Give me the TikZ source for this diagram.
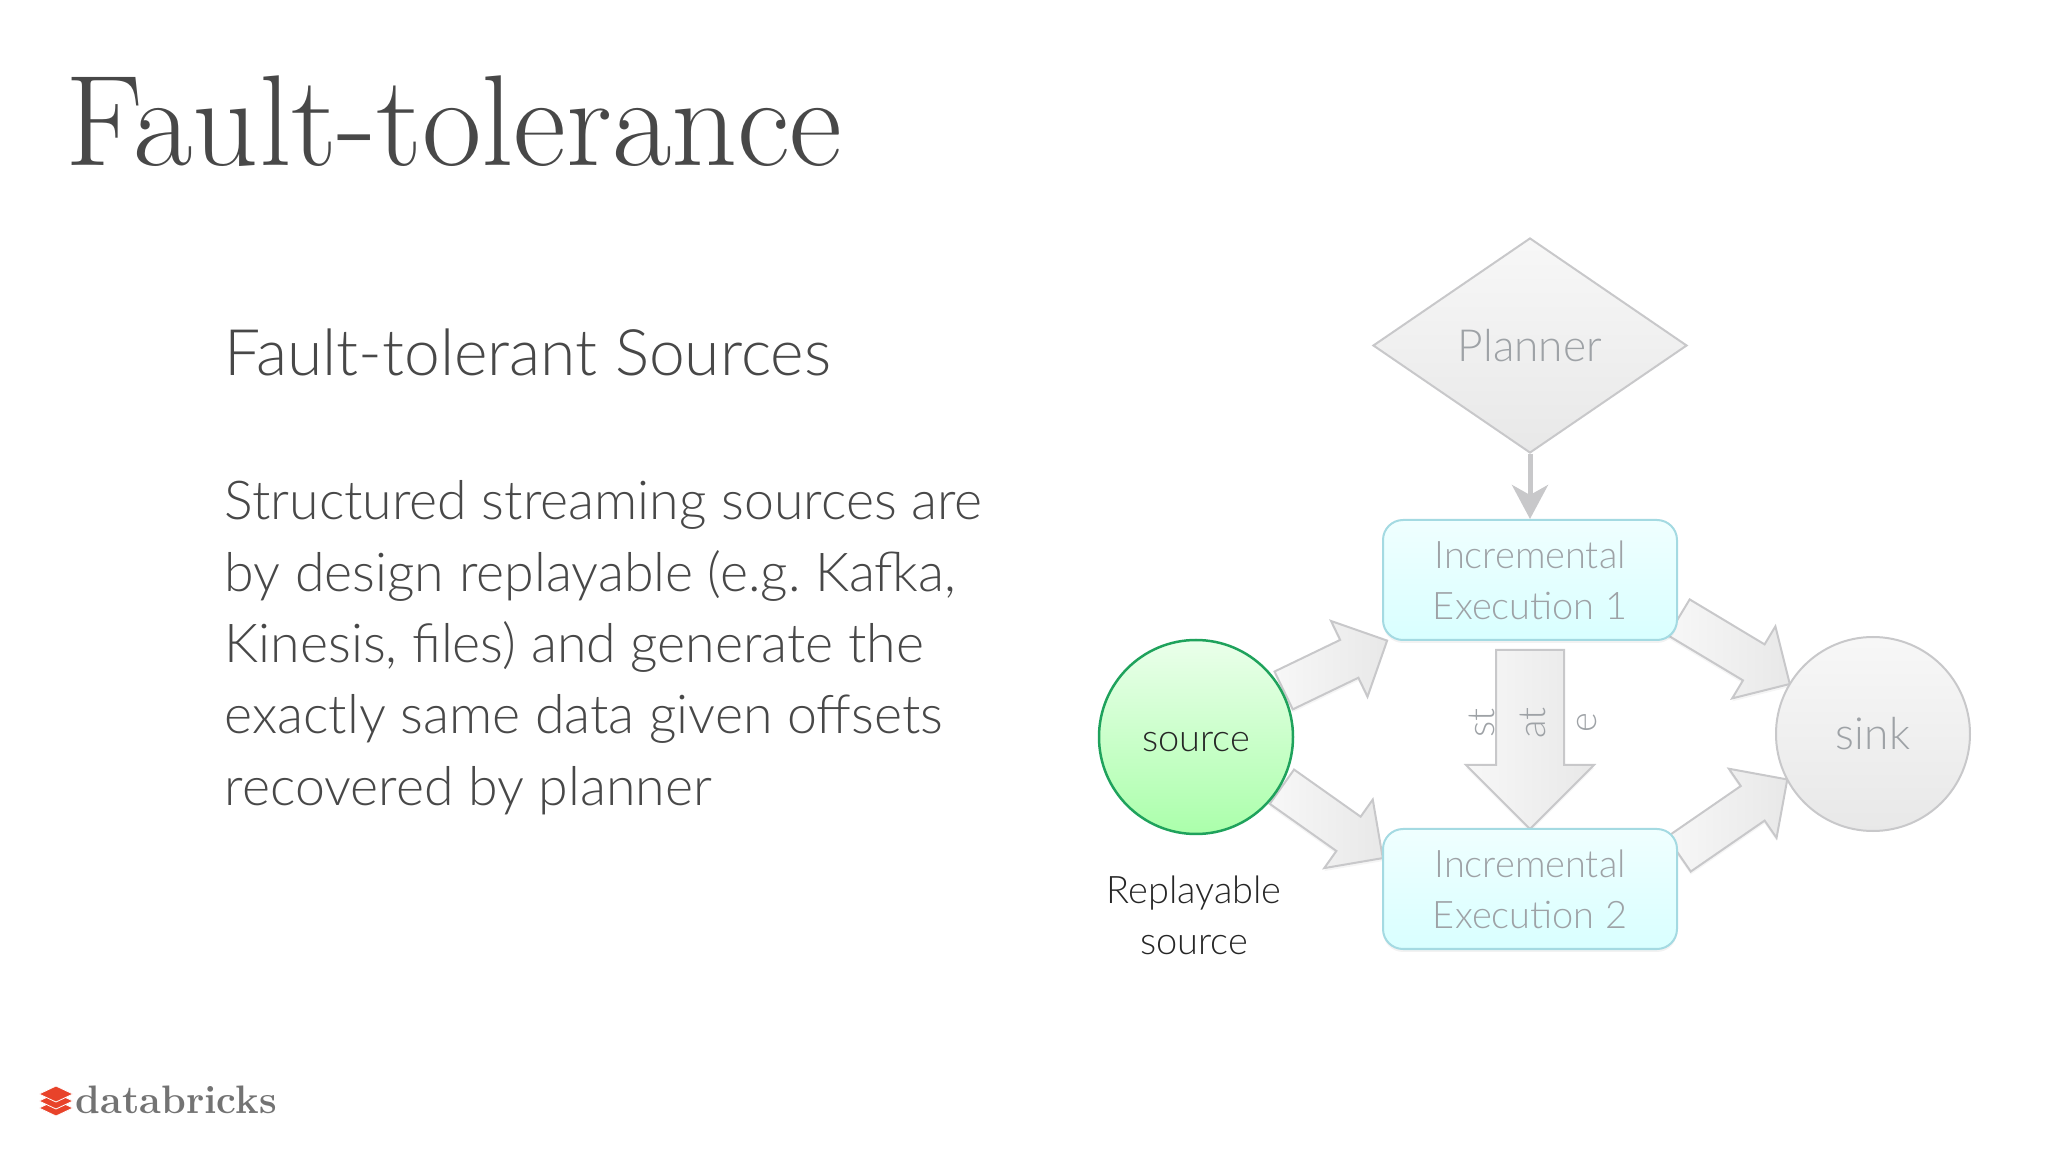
\documentclass[tikz,border=0pt]{standalone}
\usepackage{fontspec}
\usepackage{tikz}
\usetikzlibrary{positioning}
\usetikzlibrary{calc}
\usetikzlibrary{shapes.geometric, shapes.arrows, arrows.meta, shadows}
\newfontfamily\lightfont{Lato Light}
\frenchspacing
\pgfdeclarelayer{back}
\pgfsetlayers{back,main}
\definecolor{inkdark}{HTML}{484848}
\definecolor{inkfaint}{HTML}{9EA2A6}
\definecolor{edgegray}{HTML}{C8C8CA}
\definecolor{edgeteal}{HTML}{A4DAE2}
\definecolor{edgegreen}{HTML}{1FA25C}
\definecolor{logored}{HTML}{E8432A}
\tikzstyle{arrow} = [line width=0.05cm,edgegray,-{Stealth[length=0.34cm,width=0.36cm,inset=0.1cm]}]
\tikzstyle{label} = [font=\lightfont\fontsize{10.8}{14.5}\selectfont,align=center,text=inkfaint,inner sep=0pt]
\tikzstyle{biglabel} = [font=\lightfont\fontsize{12.6}{14.5}\selectfont]
\tikzstyle{graybox} = [draw=edgegray,line width=0.02cm,top color=black!3,bottom color=black!9]
\tikzstyle{execbox} = [label,draw=edgeteal,line width=0.02cm,rounded corners=0.2cm,minimum width=2.94cm,minimum height=1.20cm,top color=cyan!6,bottom color=cyan!15,drop shadow={opacity=0.10,shadow xshift=0cm,shadow yshift=-0.03cm}]
\tikzstyle{blockarrow} = [draw=edgegray,line width=0.02cm,shape=single arrow,inner xsep=0pt,left color=black!3,right color=black!9,drop shadow={opacity=0.08,shadow xshift=0cm,shadow yshift=-0.03cm}]
\newcommand{\blockconn}[4][]{%
	\path let \p1=($(#3)-(#2)$), \n1={atan2(\y1,\x1)}, \n2={veclen(\x1,\y1)} in
		node[blockarrow,#1,rotate=\n1,minimum height=\n2,anchor=tail] (#4) at (#2) {};}
\begin{document}
\begin{tikzpicture}
	\useasboundingbox (0,0) rectangle (20.48,-11.52);

	%Text
	\node [anchor=base west,inner sep=0pt,text=inkdark,font=\fontsize{36.8}{40}\selectfont] (title) at (0.65,-1.66) {Fault-tolerance};
	\node [anchor=base west,inner sep=0pt,text=inkdark,font=\lightfont\fontsize{18.25}{20}\selectfont] (subtitle) at (2.24,-3.76) {Fault-tolerant Sources};
	\node [anchor=north west,inner sep=0pt,align=left,text=inkdark,font=\lightfont\fontsize{15.27}{20.3}\selectfont] (body) at (2.24,-4.80) {Structured streaming sources are\\by design replayable (e.g. Kafka,\\Kinesis, files) and generate the\\exactly same data given offsets\\recovered by planner};

	%Nodes
	\node [label,biglabel,shape=diamond,graybox,aspect=1.46,minimum width=3.14cm,minimum height=2.15cm] (Planner) at (15.30,-3.455) {Planner};
	\node [execbox, below=0.65cm of Planner] (ExecA) {Incremental\\Execution 1};
	\node [execbox, below=1.87cm of ExecA] (ExecB) {Incremental\\Execution 2};
	\node [label,shape=circle,text=black!85,draw=edgegreen,line width=0.025cm,minimum size=1.94cm,text height=0.29cm,top color=green!8,bottom color=green!33!white] (source) at (11.96,-7.37) {source};
	\node [label,biglabel,shape=circle,graybox,minimum size=1.94cm] (sink) at (18.73,-7.34) {sink};
	\node [label,text=black!85,below=0.40cm of source,xshift=-0.02cm] (sourcecap) {Replayable\\source};
	\node [label,rotate=90] (StateLabel) at (15.325,-7.23) {st\\at\\e};

	%Lines
	\draw[arrow] (Planner.south) -- (ExecA.north);
	\begin{pgfonlayer}{back}
		\blockconn[inner ysep=0.2cm,single arrow head extend=0.21cm]{source.28}{ExecA.203}{SourceToA}
		\blockconn[inner ysep=0.2cm,single arrow head extend=0.21cm]{source.-30}{ExecB.168}{SourceToB}
		\blockconn[inner ysep=0.2cm,single arrow head extend=0.21cm]{ExecA.-14}{sink.149}{AToSink}
		\blockconn[inner ysep=0.2cm,single arrow head extend=0.21cm]{ExecB.13}{sink.208}{BToSink}
		\blockconn[inner ysep=0.33cm,single arrow head extend=0.30cm]{[yshift=-0.08cm]ExecA.south}{ExecB.north}{AToB}
	\end{pgfonlayer}

	%Logo
	\foreach \y in {-11.08,-11.01,-10.94} {
		\fill[logored,draw=white,line width=0.008cm] (0.39,\y) -- (0.56,\y+0.08) -- (0.73,\y) -- (0.56,\y-0.08) -- cycle;
	}
	\node [anchor=base west,inner sep=0pt,text=black!55,font=\bfseries\fontsize{11.3}{15}\selectfont] (logotext) at (0.75,-11.13) {databricks};
\end{tikzpicture}
\end{document}
